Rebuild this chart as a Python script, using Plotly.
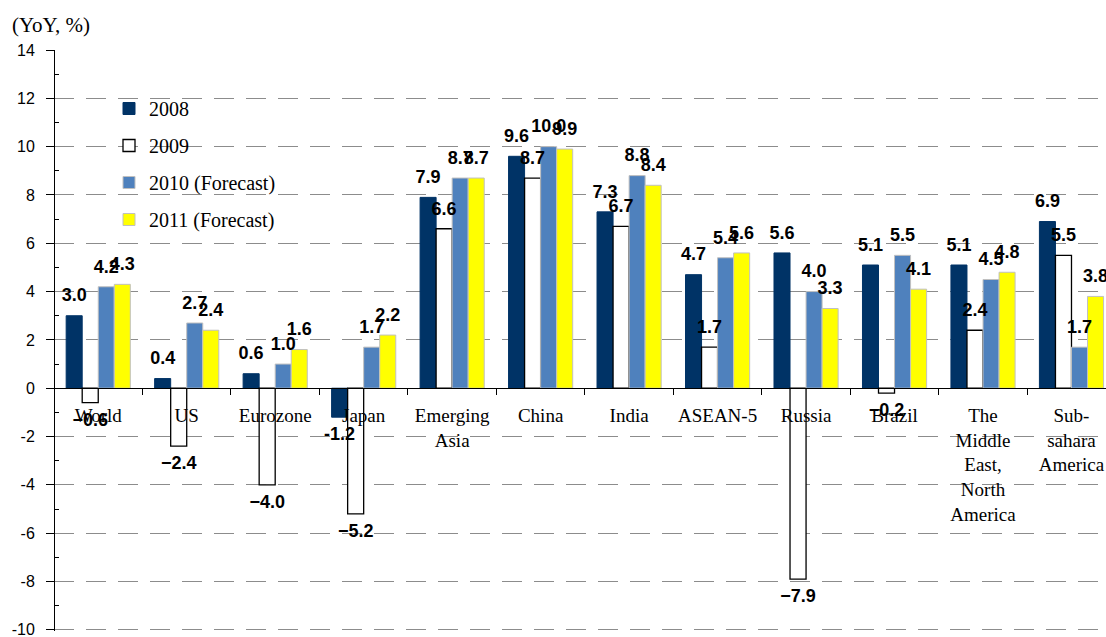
import plotly.graph_objects as go

categories = ["World", "US", "Eurozone", "Japan", "Emerging<br>Asia", "China", "India",
              "ASEAN-5", "Russia", "Brazil", "The<br>Middle<br>East,<br>North<br>America",
              "Sub-<br>sahara<br>America"]
s2008 = [3.0, 0.4, 0.6, -1.2, 7.9, 9.6, 7.3, 4.7, 5.6, 5.1, 5.1, 6.9]
s2009 = [-0.6, -2.4, -4.0, -5.2, 6.6, 8.7, 6.7, 1.7, -7.9, -0.2, 2.4, 5.5]
s2010 = [4.2, 2.7, 1.0, 1.7, 8.7, 10.0, 8.8, 5.4, 4.0, 5.5, 4.5, 1.7]
s2011 = [4.3, 2.4, 1.6, 2.2, 8.7, 9.9, 8.4, 5.6, 3.3, 4.1, 4.8, 3.8]
series_names = ["2008", "2009", "2010 (Forecast)", "2011 (Forecast)"]
y_ticks = list(range(-10, 15, 2))
y_min, y_max = -10.05, 14

W, H = 1106, 637
ML, MR, MT, MB = 54, 0, 50, 6
pw = W - ML - MR
ph = H - MT - MB
GAP = 0.275

def fmt(v, minus="-"):
    return f"{v:.1f}".replace("-", minus)

styles = [
    dict(color="#003366", line=dict(color="#003366", width=1)),
    dict(color="#ffffff", line=dict(color="#000000", width=1.3)),
    dict(color="#4f81bd", line=dict(color="#c0c0c0", width=1)),
    dict(color="#ffff00", line=dict(color="#c0c0c0", width=1)),
]
minus_signs = ["-", "\u2212", "-", "-"]

fig = go.Figure()
for i, (name, vals) in enumerate(zip(series_names, [s2008, s2009, s2010, s2011])):
    fig.add_trace(go.Bar(
        x=categories, y=vals, name=name, legendgroup=name,
        offsetgroup=str(i), alignmentgroup="a",
        marker=styles[i],
    ))
for i, (name, vals) in enumerate(zip(series_names, [s2008, s2009, s2010, s2011])):
    fig.add_trace(go.Scatter(
        x=categories, y=vals, name=name, legendgroup=name, showlegend=False,
        offsetgroup=str(i), alignmentgroup="a",
        mode="markers+text", marker=dict(size=14, opacity=0),
        text=[fmt(v, minus_signs[i]) for v in vals],
        textposition=["top center" if v >= 0 else "bottom center" for v in vals],
        cliponaxis=False, hoverinfo="skip",
        textfont=dict(family="Liberation Sans", size=18, color="#000000", weight="bold"),
    ))

fig.update_layout(
    width=W, height=H,
    margin=dict(l=ML, r=MR, t=MT, b=MB, pad=0),
    paper_bgcolor="white", plot_bgcolor="white",
    barmode="group", bargap=GAP, bargroupgap=0,
    scattermode="group", scattergap=GAP,
    showlegend=True,
    legend=dict(x=(109 - ML) / pw, y=(H - MB - 89) / ph, xanchor="left", yanchor="top",
                bgcolor="rgba(0,0,0,0)", font=dict(family="Liberation Serif", size=20, color="#000"),
                tracegroupgap=8, traceorder="grouped"),
    xaxis=dict(type="category", range=[-0.5, 11.39], anchor="free",
               position=(0 - y_min) / (y_max - y_min),
               showline=True, linecolor="#000", linewidth=1,
               tickson="boundaries", ticks="outside", ticklen=6, tickcolor="#000",
               showgrid=False, ticklabelstandoff=10,
               tickfont=dict(family="Liberation Serif", size=19, color="#000")),
    yaxis=dict(range=[y_min, y_max], anchor="free", position=0,
               showline=True, linecolor="#000", linewidth=1,
               tickmode="array", tickvals=y_ticks, ticktext=[str(v) for v in y_ticks],
               ticks="outside", ticklen=8, tickcolor="#000", ticklabelstandoff=8,
               ticklabeloverflow="allow",
               tickfont=dict(family="Liberation Sans", size=16, color="#000"),
               showgrid=True, gridcolor="#8c8c8c", gridwidth=1, griddash="20px,12px",
               zeroline=False,
               minor=dict(tickmode="array", tickvals=list(range(-9, 14, 2)), ticks="inside",
                          ticklen=4, tickcolor="#000", showgrid=False)),
    annotations=[dict(text="(YoY, %)", xref="paper", yref="paper",
                      x=(10 - ML) / pw, y=1 + 25 / ph, xanchor="left", yanchor="middle",
                      showarrow=False, font=dict(family="Liberation Serif", size=21, color="#000"))],
)

fig.write_html("out.html")
